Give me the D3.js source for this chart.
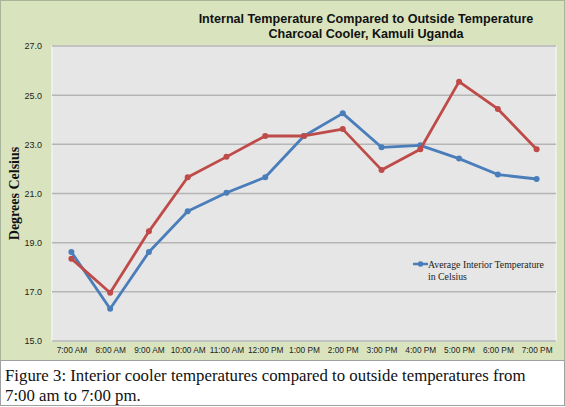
<!DOCTYPE html>
<html>
<head>
<meta charset="utf-8">
<script src="https://cdn.jsdelivr.net/npm/d3@7"></script>
<style>
  body { margin: 0; background: #fff; }
  svg { display: block; }
</style>
</head>
<body>
<div id="chart"></div>
<script>
// times of day (x axis)
const hours = ['7:00 AM', '8:00 AM', '9:00 AM', '10:00 AM', '11:00 AM', '12:00 PM',
  '1:00 PM', '2:00 PM', '3:00 PM', '4:00 PM', '5:00 PM', '6:00 PM', '7:00 PM'];

// average temperature inside the cooler
const interiorTemp = [18.62, 16.31, 18.62, 20.28, 21.03, 21.66,
  23.34, 24.26, 22.88, 22.96, 22.42, 21.77, 21.59];

// outside temperature
const outsideTemp = [18.35, 16.96, 19.46, 21.66, 22.49, 23.34,
  23.34, 23.62, 21.96, 22.80, 25.55, 24.44, 22.80];

const yTicks = [15, 17, 19, 21, 23, 25, 27];

const width = 565, height = 407;
const plot = { left: 52, right: 556, top: 46, bottom: 341 };

const svg = d3.select('#chart').append('svg')
  .attr('width', width)
  .attr('height', height);

// green chart panel
svg.append('rect')
  .attr('x', 0.5).attr('y', 0.5)
  .attr('width', width - 1).attr('height', 360)
  .attr('fill', '#d9e4bf')
  .attr('stroke', '#a9b59a');

// caption box
svg.append('rect')
  .attr('x', 0.5).attr('y', 360.5)
  .attr('width', width - 1).attr('height', 45)
  .attr('fill', '#fff')
  .attr('stroke', '#a0a0a0');

const x = d3.scalePoint()
  .domain(hours)
  .range([plot.left, plot.right])
  .padding(0.5);

const y = d3.scaleLinear()
  .domain([15, 27])
  .range([plot.bottom, plot.top]);

// plot area
svg.append('rect')
  .attr('x', plot.left).attr('y', plot.top)
  .attr('width', plot.right - plot.left)
  .attr('height', plot.bottom - plot.top)
  .attr('fill', '#e6e6e6')
  .attr('stroke', '#f2f2f2')
  .attr('stroke-width', 1.5);

// gridlines
svg.append('g')
  .selectAll('line')
  .data(yTicks)
  .enter()
  .append('line')
  .attr('x1', plot.left).attr('x2', plot.right)
  .attr('y1', d => y(d)).attr('y2', d => y(d))
  .attr('stroke', '#b5b5b5')
  .attr('stroke-width', 1.5);

// y axis labels
const yAxis = svg.append('g')
  .attr('transform', `translate(${plot.left},0)`)
  .call(d3.axisLeft(y).tickValues(yTicks).tickFormat(d3.format('.1f')).tickSize(0).tickPadding(10));
yAxis.select('.domain').remove();
yAxis.selectAll('text')
  .attr('font-family', 'Liberation Sans, Arial, sans-serif')
  .attr('font-size', '9px')
  .attr('fill', '#222');

// x axis labels
const xAxis = svg.append('g')
  .attr('transform', `translate(0,${plot.bottom})`)
  .call(d3.axisBottom(x).tickSize(0).tickPadding(6));
xAxis.select('.domain').remove();
xAxis.selectAll('text')
  .attr('font-family', 'Liberation Sans, Arial, sans-serif')
  .attr('font-size', '8.3px')
  .attr('fill', '#222');

// lines and markers
const line = d3.line()
  .x((d, i) => x(hours[i]))
  .y(d => y(d));

const series = [
  { values: interiorTemp, color: '#4a7ebb' },
  { values: outsideTemp, color: '#be4b48' }
];

series.forEach(s => {
  svg.append('path')
    .datum(s.values)
    .attr('d', line)
    .attr('fill', 'none')
    .attr('stroke', s.color)
    .attr('stroke-width', 2.8)
    .attr('stroke-linejoin', 'round');
  svg.append('g')
    .selectAll('circle')
    .data(s.values)
    .enter()
    .append('circle')
    .attr('cx', (d, i) => x(hours[i]))
    .attr('cy', d => y(d))
    .attr('r', 3)
    .attr('fill', s.color);
});

// title
const title = svg.append('text')
  .attr('x', 366)
  .attr('font-family', 'Liberation Sans, Arial, sans-serif')
  .attr('font-size', '12.6px')
  .attr('font-weight', 'bold')
  .attr('text-anchor', 'middle')
  .attr('fill', '#111');
title.append('tspan').attr('x', 366).attr('y', 23).text('Internal Temperature Compared to Outside Temperature');
title.append('tspan').attr('x', 366).attr('y', 38).text('Charcoal Cooler, Kamuli Uganda');

// y axis title
svg.append('text')
  .attr('transform', `translate(19,${(plot.top + plot.bottom) / 2}) rotate(-90)`)
  .attr('text-anchor', 'middle')
  .attr('font-family', 'Liberation Serif, Times New Roman, serif')
  .attr('font-size', '14px')
  .attr('font-weight', 'bold')
  .attr('fill', '#111')
  .text('Degrees Celsius');

// legend (only interior series shown)
const legend = svg.append('g').attr('transform', 'translate(413,264)');
legend.append('line')
  .attr('x1', 0).attr('x2', 15)
  .attr('stroke', '#4a7ebb')
  .attr('stroke-width', 2.5);
legend.append('circle')
  .attr('cx', 7.5).attr('r', 2.8)
  .attr('fill', '#4a7ebb');
const legendText = legend.append('text')
  .attr('font-family', 'Liberation Serif, Times New Roman, serif')
  .attr('font-size', '9.8px')
  .attr('fill', '#222');
legendText.append('tspan').attr('x', 15).attr('y', 3.5).text('Average Interior Temperature');
legendText.append('tspan').attr('x', 15).attr('y', 15.5).text('in Celsius');

// caption
const caption = svg.append('text')
  .attr('font-family', 'Liberation Serif, Times New Roman, serif')
  .attr('font-size', '16.8px')
  .attr('fill', '#111');
caption.append('tspan').attr('x', 5).attr('y', 381).text('Figure 3: Interior cooler temperatures compared to outside temperatures from');
caption.append('tspan').attr('x', 5).attr('y', 401).text('7:00 am to 7:00 pm.');
</script>
</body>
</html>
